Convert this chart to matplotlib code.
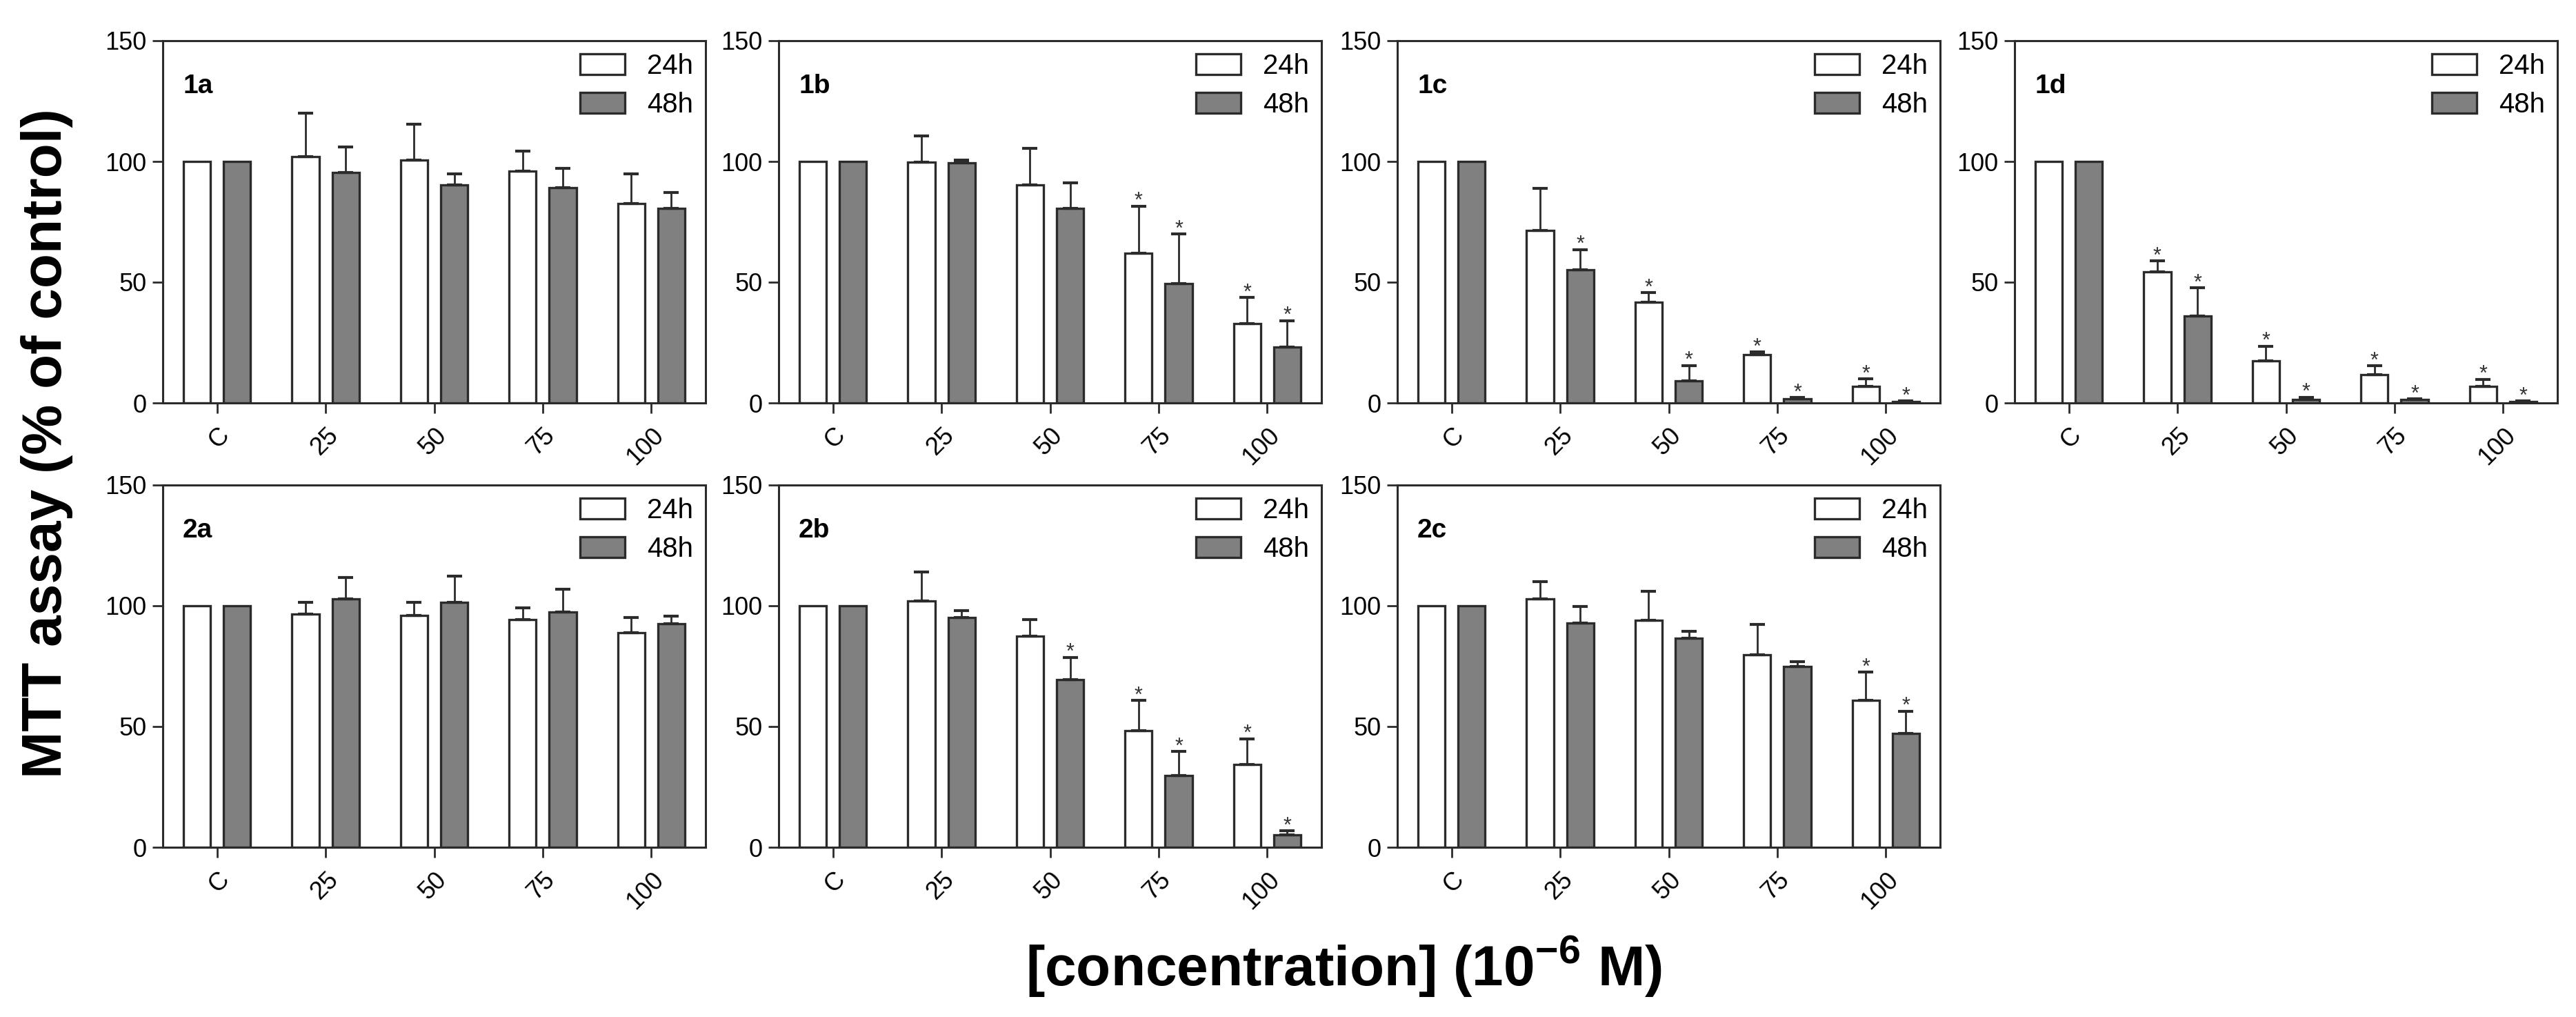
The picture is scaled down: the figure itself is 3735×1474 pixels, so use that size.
import matplotlib
matplotlib.use("Agg")
import matplotlib.pyplot as plt
import numpy as np

plt.rcParams["font.family"] = ["Liberation Sans", "DejaVu Sans"]
plt.rcParams["mathtext.fontset"] = "custom"
plt.rcParams["mathtext.rm"] = "Liberation Sans"
plt.rcParams["mathtext.bf"] = "Liberation Sans:bold"

concentrations = ["C", "25", "50", "75", "100"]

# values (% of control), 24h / 48h, upper error bars, * flags
p1a_24 = [100, 102, 100.5, 96, 82.5]
p1a_24_err = [0, 18, 15, 8.3, 12.4]
p1a_48 = [100, 95.4, 90.2, 89, 80.7]
p1a_48_err = [0, 10.5, 4.7, 8.2, 6.5]
p1a_star24 = [0, 0, 0, 0, 0]
p1a_star48 = [0, 0, 0, 0, 0]

p1b_24 = [100, 99.6, 90.2, 62, 32.9]
p1b_24_err = [0, 10.9, 15.3, 19.5, 10.7]
p1b_48 = [100, 99.5, 80.7, 49.3, 23.1]
p1b_48_err = [0, 1, 10.5, 20.6, 11]
p1b_star24 = [0, 0, 0, 1, 1]
p1b_star48 = [0, 0, 0, 1, 1]

p1c_24 = [100, 71.4, 41.6, 19.9, 6.9]
p1c_24_err = [0, 17.4, 4, 1.2, 3]
p1c_48 = [100, 55.1, 9.2, 1.8, 0.6]
p1c_48_err = [0, 8.4, 6.3, 0.4, 0.2]
p1c_star24 = [0, 0, 1, 1, 1]
p1c_star48 = [0, 1, 1, 1, 1]

p1d_24 = [100, 54.3, 17.3, 11.6, 6.9]
p1d_24_err = [0, 4.5, 6.2, 3.8, 2.9]
p1d_48 = [100, 35.9, 1.5, 1.3, 0.6]
p1d_48_err = [0, 11.8, 0.9, 0.3, 0.2]
p1d_star24 = [0, 1, 1, 1, 1]
p1d_star48 = [0, 1, 1, 1, 1]

p2a_24 = [100, 96.5, 95.9, 94.3, 88.9]
p2a_24_err = [0, 4.8, 5.4, 4.8, 6.2]
p2a_48 = [100, 103, 101.4, 97.5, 92.5]
p2a_48_err = [0, 8.6, 11, 9.4, 3.2]
p2a_star24 = [0, 0, 0, 0, 0]
p2a_star48 = [0, 0, 0, 0, 0]

p2b_24 = [100, 102.1, 87.3, 48.4, 34.4]
p2b_24_err = [0, 11.9, 7, 12.4, 10.6]
p2b_48 = [100, 95.1, 69.5, 29.7, 5.2]
p2b_48_err = [0, 3, 9.2, 10, 1.6]
p2b_star24 = [0, 0, 0, 1, 1]
p2b_star48 = [0, 0, 1, 1, 1]

p2c_24 = [100, 102.9, 94.1, 79.7, 60.8]
p2c_24_err = [0, 7.1, 11.9, 12.5, 11.7]
p2c_48 = [100, 93, 86.7, 74.8, 47.1]
p2c_48_err = [0, 6.7, 2.8, 2.2, 9.2]
p2c_star24 = [0, 0, 0, 0, 1]
p2c_star48 = [0, 0, 0, 0, 1]

panels = [
    ("1a", p1a_24, p1a_24_err, p1a_48, p1a_48_err, p1a_star24, p1a_star48),
    ("1b", p1b_24, p1b_24_err, p1b_48, p1b_48_err, p1b_star24, p1b_star48),
    ("1c", p1c_24, p1c_24_err, p1c_48, p1c_48_err, p1c_star24, p1c_star48),
    ("1d", p1d_24, p1d_24_err, p1d_48, p1d_48_err, p1d_star24, p1d_star48),
    ("2a", p2a_24, p2a_24_err, p2a_48, p2a_48_err, p2a_star24, p2a_star48),
    ("2b", p2b_24, p2b_24_err, p2b_48, p2b_48_err, p2b_star24, p2b_star48),
    ("2c", p2c_24, p2c_24_err, p2c_48, p2c_48_err, p2c_star24, p2c_star48),
]

EDGE = "#2b2b2b"
GREY = "#808080"
W, H = 3735, 1474
lefts = [236, 1129, 2026, 2921]
tops = [59, 703]
ax_w, ax_h = 787, 525

fig = plt.figure(figsize=(W / 100, H / 100), dpi=100)

x = np.arange(len(concentrations))
off, bw = 0.185, 0.25

for k, (name, v24, e24, v48, e48, s24, s48) in enumerate(panels):
    row, col = divmod(k, 4)
    ax = fig.add_axes([lefts[col] / W, 1 - (tops[row] + ax_h) / H, ax_w / W, ax_h / H])

    ax.bar(x - off, v24, width=bw, color="white", edgecolor=EDGE, linewidth=2.4, label="24h", zorder=2)
    ax.bar(x + off, v48, width=bw, color=GREY, edgecolor=EDGE, linewidth=2.4, label="48h", zorder=2)

    # upper error bars only, control has none
    for xs, vals, errs in [(x - off, v24, e24), (x + off, v48, e48)]:
        ax.errorbar(xs[1:], vals[1:], yerr=[np.zeros(4), errs[1:]], fmt="none",
                    ecolor=EDGE, elinewidth=2, capsize=8, capthick=3, zorder=3)

    for xs, vals, errs, stars in [(x - off, v24, e24, s24), (x + off, v48, e48, s48)]:
        for i in range(len(x)):
            if stars[i]:
                ax.annotate("*", (xs[i], vals[i] + errs[i]), xytext=(0, -1),
                            textcoords="offset points", ha="center", va="baseline",
                            fontsize=22, color="#333333")

    ax.set_xlim(-0.5, 4.5)
    ax.set_ylim(0, 150)
    ax.set_yticks([0, 50, 100, 150])
    ax.set_xticks(x)
    ax.set_xticklabels(concentrations, rotation=45, ha="right", rotation_mode="anchor")
    ax.tick_params(direction="out", length=11, width=2, labelsize=26, color=EDGE, pad=6)
    ax.tick_params(axis="x", pad=10)
    for sp in ax.spines.values():
        sp.set_linewidth(2.2)
        sp.set_color(EDGE)

    ax.text(0.037, 0.855, name, transform=ax.transAxes, fontsize=28, fontweight="bold",
            ha="left", va="baseline")
    ax.legend(loc="upper right", frameon=False, fontsize=29, handlelength=1.6,
              handleheight=0.75, handletextpad=0.8, labelspacing=0.45,
              borderaxespad=0.25, borderpad=0.2)

fig.text(30 / W, 1 - 643 / H, "MTT assay (% of control)", rotation=90, ha="left",
         va="center", fontsize=59, fontweight="bold")
fig.text(1948 / W, 1 - 1428 / H, r"[concentration] (10$^{\mathbf{-6}}$ M)", ha="center",
         va="baseline", fontsize=59, fontweight="bold")

fig.savefig("out.png", dpi=100)
